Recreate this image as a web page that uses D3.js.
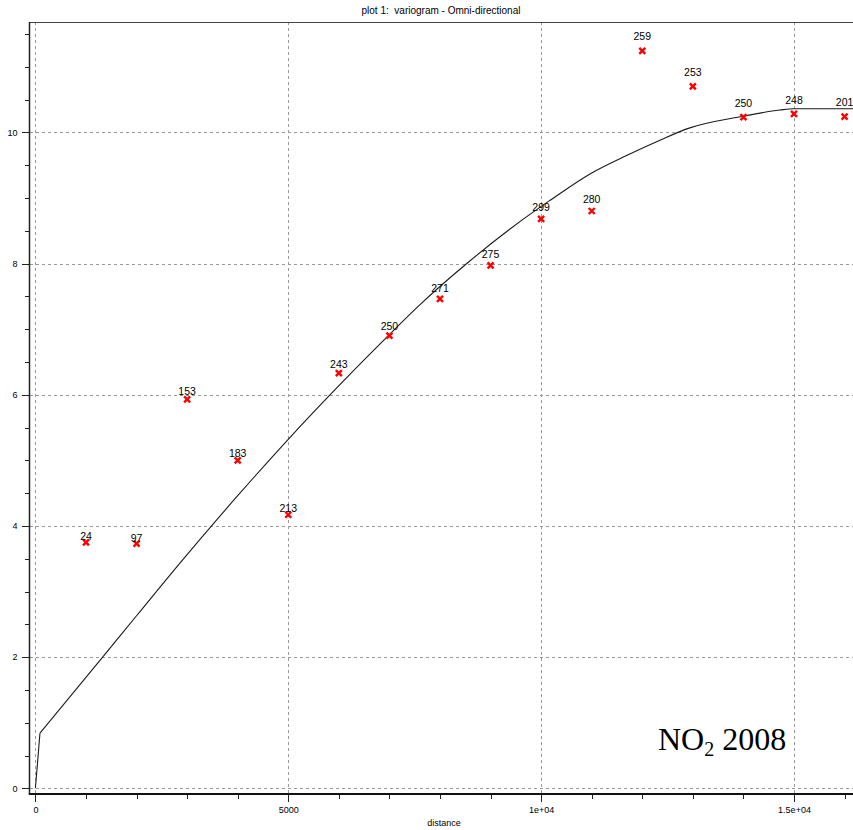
<!DOCTYPE html>
<html>
<head>
<meta charset="utf-8">
<script src="https://cdn.jsdelivr.net/npm/d3@7"></script>
<style>
  html, body { margin: 0; padding: 0; background: #fff; }
  svg { display: block; }
</style>
</head>
<body>
<div id="chart"></div>
<script>
// ---- data ----
const lagDistance = [1000, 2000, 3000, 4000, 5000, 6000, 7000, 8000, 9000, 10000, 11000, 12000, 13000, 14000, 15000, 16000];
const semivariance = [3.75, 3.73, 5.93, 5.00, 4.17, 6.33, 6.90, 7.46, 7.97, 8.68, 8.80, 11.24, 10.70, 10.23, 10.28, 10.24];
const pairCounts = [24, 97, 153, 183, 213, 243, 250, 271, 275, 299, 280, 259, 253, 250, 248, 201];

// fitted model curve (first two points: nugget jump)
const nuggetDistance = [0, 90];
const nuggetGamma = [0, 0.84];
const modelDistance = [90, 1350, 2000, 2920, 3250, 4000, 5000, 5830, 6810, 7600, 8530, 9980, 10170, 11000, 11700, 12350, 12910, 13960, 14720, 15000, 16200];
const modelGamma = [0.84, 2.02, 2.63, 3.49, 3.79, 4.46, 5.32, 6.0, 6.77, 7.37, 8.0, 8.86, 8.96, 9.38, 9.65, 9.88, 10.06, 10.24, 10.34, 10.36, 10.36];

const xTickValues = [0, 5000, 10000, 15000];
const xTickLabels = ["0", "5000", "1e+04", "1.5e+04"];
const xMinorTicks = [1000, 2000, 3000, 4000, 6000, 7000, 8000, 9000, 11000, 12000, 13000, 14000, 16000];
const yTickValues = [0, 2, 4, 6, 8, 10];
const yTickLabels = ["0", "2", "4", "6", "8", "10"];
const yMinorTicks = [0.5, 1, 1.5, 2.5, 3, 3.5, 4.5, 5, 5.5, 6.5, 7, 7.5, 8.5, 9, 9.5, 10.5, 11, 11.5];

const titleText = "plot 1:  variogram - Omni-directional";
const xLabel = "distance";

// ---- layout ----
const W = 853, H = 830;
const pLeft = 29.5, pTop = 22, pBottom = 794, pRight = 853;

const svg = d3.select("#chart").append("svg")
  .attr("width", W).attr("height", H)
  .style("font-family", "'Liberation Sans', Arial, sans-serif");

svg.append("rect").attr("width", W).attr("height", H).attr("fill", "#fff");

const x = d3.scaleLinear().domain([0, 15000]).range([35.4, 794]);
const y = d3.scaleLinear().domain([0, 10]).range([788.3, 132.3]);

// title
svg.append("text").attr("x", 441).attr("y", 14)
  .attr("text-anchor", "middle").attr("font-size", 10).attr("fill", "#000")
  .style("white-space", "pre")
  .text(titleText);

// grid
const grid = svg.append("g").attr("stroke", "#9a9a9a").attr("stroke-width", 1)
  .attr("stroke-dasharray", "3,3").attr("shape-rendering", "crispEdges");
grid.selectAll("line.v").data(xTickValues).join("line").attr("class", "v")
  .attr("x1", d => Math.round(x(d)) + 0.5).attr("x2", d => Math.round(x(d)) + 0.5)
  .attr("y1", pTop).attr("y2", pBottom);
grid.selectAll("line.h").data(yTickValues).join("line").attr("class", "h")
  .attr("y1", d => Math.round(y(d)) + 0.5).attr("y2", d => Math.round(y(d)) + 0.5)
  .attr("x1", pLeft).attr("x2", pRight);

// frame top
svg.append("line").attr("x1", pLeft).attr("x2", pRight).attr("y1", pTop + 0.5).attr("y2", pTop + 0.5)
  .attr("stroke", "#444").attr("stroke-width", 1).attr("shape-rendering", "crispEdges");

// axes
const yAxis = d3.axisLeft(y).tickValues(yTickValues)
  .tickFormat((d, i) => yTickLabels[i]).tickSize(8).tickPadding(4);
const yMinor = d3.axisLeft(y).tickValues(yMinorTicks).tickFormat("").tickSize(5);
const gy = svg.append("g").attr("transform", `translate(${pLeft},0)`).call(yAxis);
const gym = svg.append("g").attr("transform", `translate(${pLeft},0)`).call(yMinor);
[gy, gym].forEach(g => {
  g.select(".domain").remove();
  g.selectAll("line").attr("stroke", "#222").attr("shape-rendering", "crispEdges");
});
gy.selectAll("text").attr("font-size", 9).attr("fill", "#000")
  .attr("font-family", "'Liberation Sans', Arial, sans-serif");

const xAxis = d3.axisBottom(x).tickValues(xTickValues)
  .tickFormat((d, i) => xTickLabels[i]).tickSize(8).tickPadding(5);
const xMinor = d3.axisBottom(x).tickValues(xMinorTicks).tickFormat("").tickSize(5);
const gx = svg.append("g").attr("transform", `translate(0,${pBottom})`).call(xAxis);
const gxm = svg.append("g").attr("transform", `translate(0,${pBottom})`).call(xMinor);
[gx, gxm].forEach(g => {
  g.select(".domain").remove();
  g.selectAll("line").attr("stroke", "#222").attr("shape-rendering", "crispEdges");
});
gx.selectAll("text").attr("font-size", 9).attr("fill", "#000")
  .attr("font-family", "'Liberation Sans', Arial, sans-serif");

svg.append("line").attr("x1", pLeft).attr("x2", pLeft).attr("y1", pTop).attr("y2", pBottom)
  .attr("stroke", "#222").attr("stroke-width", 1.5);
svg.append("line").attr("x1", pLeft - 0.75).attr("x2", pRight).attr("y1", pBottom).attr("y2", pBottom)
  .attr("stroke", "#111").attr("stroke-width", 2);

svg.append("text").attr("x", 444).attr("y", 826)
  .attr("text-anchor", "middle").attr("font-size", 9).attr("fill", "#000")
  .text(xLabel);

// model curve
svg.append("clipPath").attr("id", "plotclip").append("rect")
  .attr("x", pLeft).attr("y", pTop).attr("width", pRight - pLeft).attr("height", pBottom - pTop);

const curveG = svg.append("g").attr("clip-path", "url(#plotclip)")
  .attr("fill", "none").attr("stroke", "#1a1a1a").attr("stroke-width", 1.1)
  .attr("stroke-linejoin", "round");
const nuggetLine = d3.line().x(d => x(d[0])).y(d => y(d[1])).curve(d3.curveLinear);
const modelLine = d3.line().x(d => x(d[0])).y(d => y(d[1])).curve(d3.curveMonotoneX);
curveG.append("path")
  .datum(nuggetDistance.map((d, i) => [d, nuggetGamma[i]]))
  .attr("d", nuggetLine);
curveG.append("path")
  .datum(modelDistance.map((d, i) => [d, modelGamma[i]]))
  .attr("d", modelLine);

// points
const pts = svg.append("g").attr("clip-path", "url(#plotclip)");
const s = 3;
pts.selectAll("path.pt").data(lagDistance).join("path").attr("class", "pt")
  .attr("d", (d, i) => {
    const cx = x(d), cy = y(semivariance[i]);
    return `M${cx - s},${cy - s}L${cx + s},${cy + s}M${cx - s},${cy + s}L${cx + s},${cy - s}`;
  })
  .attr("stroke", "#ff0000").attr("stroke-width", 2.4).attr("fill", "none");

svg.selectAll("text.lbl").data(lagDistance).join("text")
  .attr("class", "lbl")
  .attr("x", d => x(d))
  .attr("y", (d, i) => y(semivariance[i]) - (1.25 * semivariance[i] - 2.7))
  .attr("text-anchor", "middle").attr("font-size", 10.5).attr("fill", "#000")
  .text((d, i) => pairCounts[i]);

// annotation
const ann = svg.append("text").attr("x", 658).attr("y", 750)
  .attr("font-family", "'Liberation Serif', 'Times New Roman', serif")
  .attr("font-size", 32).attr("fill", "#000");
ann.append("tspan").text("NO");
ann.append("tspan").attr("font-size", 20).attr("dy", 6).text("2");
ann.append("tspan").attr("dy", -6).text(" 2008");
</script>
</body>
</html>
